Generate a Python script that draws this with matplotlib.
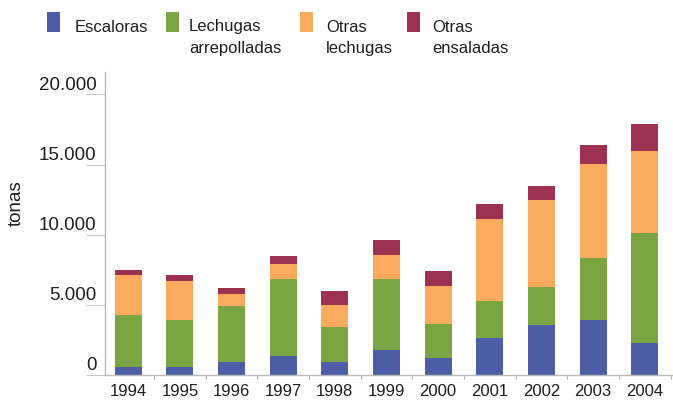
import matplotlib.pyplot as plt
import matplotlib.transforms as mtransforms
from matplotlib.patches import Rectangle
from matplotlib.ticker import FuncFormatter, MultipleLocator

plt.rcParams['font.family'] = ['Liberation Sans', 'DejaVu Sans']

years = ["1994", "1995", "1996", "1997", "1998", "1999",
         "2000", "2001", "2002", "2003", "2004"]
escaloras = [550, 550, 950, 1330, 950, 1790, 1210, 2640, 3600, 3950, 2260]
arrepolladas = [3760, 3400, 3950, 5530, 2500, 5070, 2430, 2670, 2660, 4410, 7860]
otras_lechugas = [2790, 2740, 840, 1020, 1550, 1710, 2740, 5830, 6190, 6660, 5860]
otras_ensaladas = [420, 450, 450, 600, 1020, 1030, 1000, 1030, 1000, 1410, 1900]

series = [escaloras, arrepolladas, otras_lechugas, otras_ensaladas]
labels = ["Escaloras", "Lechugas\narrepolladas", "Otras\nlechugas", "Otras\nensaladas"]
colors = ["#4d5ea6", "#7ba443", "#fbab5e", "#9c3150"]
ink = "#1e1e1e"

fig = plt.figure(figsize=(6.73, 4.02), dpi=100)
ax = fig.add_axes([105 / 673, 26 / 402, 1 - 105 / 673 - 0.002, (376 - 73) / 402])

x = range(len(years))
bottom = [0] * len(years)
for vals, col in zip(series, colors):
    ax.bar(x, vals, width=0.52, bottom=bottom, color=col, linewidth=0, zorder=2)
    bottom = [b + v for b, v in zip(bottom, vals)]

ax.set_xlim(-0.45, 10.52)
ax.set_ylim(0, 21600)

for s in ["top", "right"]:
    ax.spines[s].set_visible(False)
for s in ["left", "bottom"]:
    ax.spines[s].set_color("#b8b8b8")
    ax.spines[s].set_linewidth(1.0)

ax.yaxis.set_major_locator(MultipleLocator(5000))
ax.yaxis.set_major_formatter(FuncFormatter(lambda v, p: "{:,.0f}".format(v).replace(",", ".")))
ax.tick_params(axis="y", length=14, width=0.8, color="#c8c8c8", pad=-8,
               labelsize=13.5, labelcolor=ink)
offset = mtransforms.ScaledTranslation(0, 4 / 72, fig.dpi_scale_trans)
for lab in ax.get_yticklabels():
    lab.set_verticalalignment("baseline")
    lab.set_transform(lab.get_transform() + offset)

ax.set_xticks(list(x))
ax.set_xticklabels(years)
ax.set_xticks([i + 0.5 for i in range(len(years))], minor=True)
ax.tick_params(axis="x", which="major", length=0, pad=6, labelsize=12, labelcolor=ink)
ax.tick_params(axis="x", which="minor", length=3, width=0.8, color="#b0b0b0")

fig.text(16 / 673, 1 - 203 / 402, "tonas", rotation=90, ha="center", va="center",
         fontsize=13.5, color=ink)

# legend drawn by hand so the square lines up with the first line of text
sq_x = [47, 166, 300, 407]
tx_x = [75, 189, 326, 432]
for lab, col, sx, tx in zip(labels, colors, sq_x, tx_x):
    fig.patches.append(Rectangle((sx / 673, 1 - 33 / 402), 13 / 673, 20 / 402,
                                 transform=fig.transFigure, color=col, linewidth=0))
    for i, line in enumerate(lab.split("\n")):
        fig.text(tx / 673, 1 - (31.5 + i * 21.7) / 402, line, ha="left", va="baseline",
                 fontsize=12, color=ink)

fig.savefig("out.png", dpi=100)
